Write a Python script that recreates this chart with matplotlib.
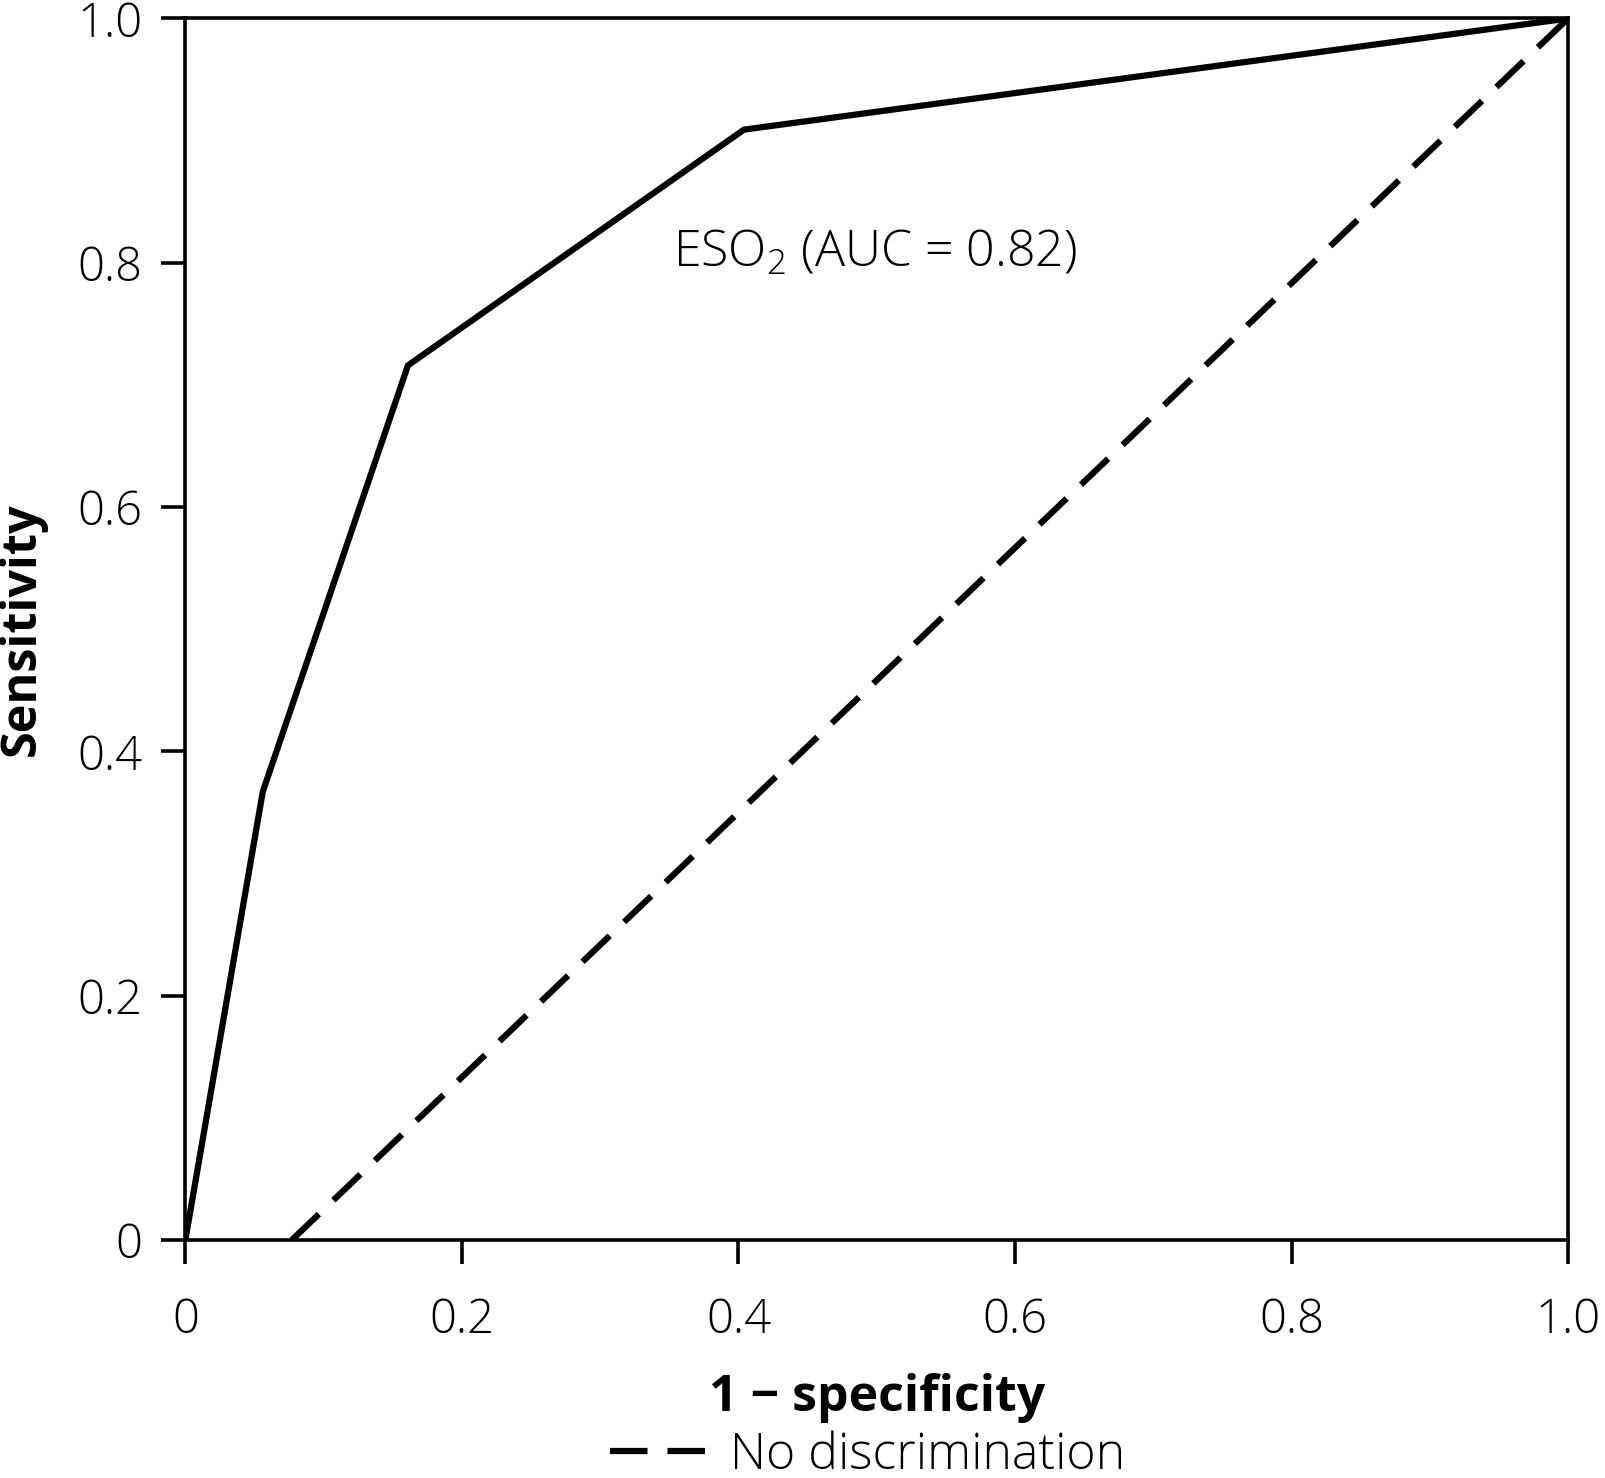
import matplotlib
matplotlib.use("Agg")
import matplotlib.pyplot as plt
from matplotlib.lines import Line2D

# ROC curve (1 - specificity, sensitivity)
roc_fpr = [0.0, 0.056, 0.161, 0.404, 1.0]
roc_tpr = [0.0, 0.367, 0.716, 0.909, 1.0]
# reference line as drawn
ref_x = [0.077, 1.0]
ref_y = [0.0, 1.0]
tick_vals = [0, 0.2, 0.4, 0.6, 0.8, 1.0]
tick_labels = ["0", "0.2", "0.4", "0.6", "0.8", "1.0"]
annot = r"ESO$_2$ (AUC = 0.82)"

plt.rcParams['font.family'] = ['Open Sans', 'DejaVu Sans']
plt.rcParams['mathtext.fontset'] = 'custom'
plt.rcParams['mathtext.rm'] = 'Open Sans:light'

fig = plt.figure(figsize=(16.06, 14.78), dpi=100)
ax = fig.add_axes([0.1154, 0.161, 0.8610, 0.8265])

ax.plot(roc_fpr, roc_tpr, color='black', lw=4.5, solid_joinstyle='miter')
ax.plot(ref_x, ref_y, color='black', lw=4.5, dashes=(6, 3.2))

ax.set_xlim(0, 1)
ax.set_ylim(0, 1)
ax.set_xticks(tick_vals)
ax.set_xticklabels(tick_labels)
ax.set_yticks(tick_vals)
ax.set_yticklabels(tick_labels)
for s in ax.spines.values():
    s.set_linewidth(2.6)
ax.tick_params(axis='both', direction='out', length=17, width=2.6,
               labelsize=34, pad=14)
for lab in ax.get_xticklabels() + ax.get_yticklabels():
    lab.set_fontweight('light')
ax.tick_params(axis='x', pad=24)

ax.set_xlabel("1 − specificity", fontsize=36, fontweight='bold', labelpad=20)
ax.set_ylabel("Sensitivity", fontsize=35, fontweight='bold', labelpad=22)

ax.text(0.353, 0.807, annot, fontsize=36, fontweight='light',
        va='center', ha='left', transform=ax.transData)

handle = Line2D([0], [0], color='black', lw=4.5, dashes=(6, 3.2))
fig.legend([handle], ["No discrimination"], loc='center',
           bbox_to_anchor=(0.54, 0.015), frameon=False,
           handlelength=2.0, handletextpad=0.4,
           prop={'size': 36, 'weight': 'light'})

fig.savefig("out.png", dpi=100)
